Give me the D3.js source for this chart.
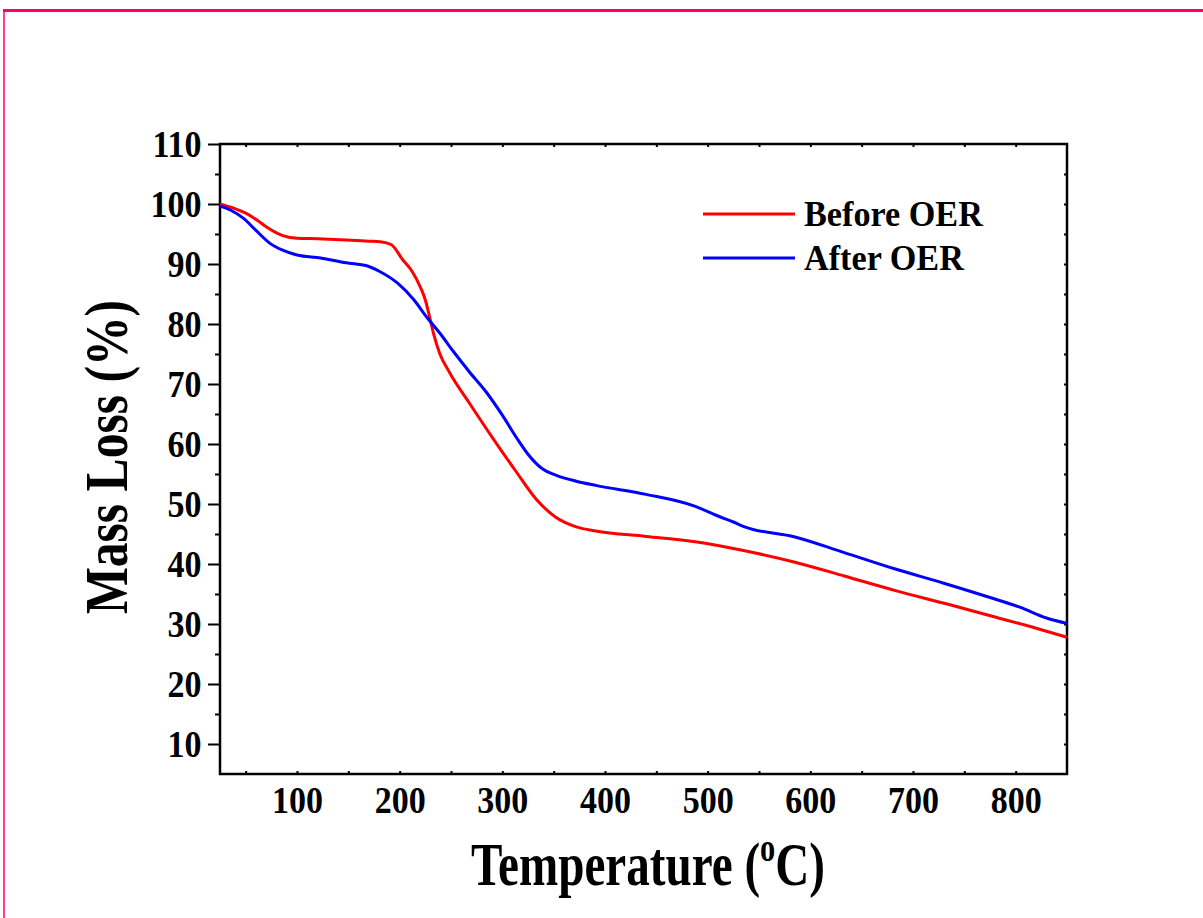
<!DOCTYPE html>
<html>
<head>
<meta charset="utf-8">
<script src="https://cdn.jsdelivr.net/npm/d3@7"></script>
<style>
  body { margin: 0; background: #fff; }
  svg { display: block; }
  text { font-family: "Liberation Serif", "Times New Roman", serif; font-weight: bold; fill: #000; }
</style>
</head>
<body>
<div id="main_plot"></div>
<script>
// series data
var beforeTemp = [25, 40, 51, 62, 70, 80, 87, 100, 120, 148, 170, 181, 192, 203, 212, 220, 225, 228, 233, 239, 249, 268, 291, 313, 333, 352, 372, 391, 440, 488, 536, 585, 633, 682, 736, 779, 820, 850];
var beforeMass = [100, 99.2, 98.4, 97.2, 96.2, 95.2, 94.7, 94.3, 94.2, 94.0, 93.8, 93.7, 93.2, 90.7, 88.8, 86.2, 84, 82, 78.4, 75.1, 71.8, 66.8, 60.9, 55.5, 50.8, 47.8, 46.2, 45.5, 44.6, 43.7, 42.2, 40.3, 38, 35.6, 33.2, 31.2, 29.3, 27.8];

var afterTemp = [25, 35, 48, 60, 74, 86, 100, 123, 148, 168, 181, 198, 214, 227, 239, 252, 268, 285, 300, 314, 325, 338, 352, 372, 391, 440, 488, 510, 525, 536, 585, 633, 682, 730, 779, 804, 830, 850];
var afterMass = [99.7, 99, 97.6, 95.6, 93.4, 92.3, 91.5, 91.0, 90.2, 89.7, 88.7, 86.8, 84, 81, 78.5, 75.5, 72, 68.5, 64.8, 61, 58.3, 56, 54.8, 53.8, 53.1, 51.6, 49.6, 48, 47, 46.2, 44.5, 41.9, 39.2, 36.8, 34.2, 32.8, 31, 30.1];

var seriesNames = ["Before OER", "After OER"];
var seriesColors = ["#ff0000", "#0000ff"];

// tick labels
var xTicks = [100, 200, 300, 400, 500, 600, 700, 800];
var yTicks = [10, 20, 30, 40, 50, 60, 70, 80, 90, 100, 110];

// set the dimensions and margins of the graph
var margin = {top: 144, left: 220},
    width = 847,
    height = 630;

var svg = d3.select("div#main_plot")
  .append("svg")
  .attr("width", 1203)
  .attr("height", 918);

// pink frame round the picture
svg.append("line")
  .attr("x1", 3).attr("x2", 1203)
  .attr("y1", 10.5).attr("y2", 10.5)
  .attr("stroke", "#ff0066").attr("stroke-width", 3);
svg.append("line")
  .attr("x1", 4).attr("x2", 4)
  .attr("y1", 9).attr("y2", 918)
  .attr("stroke", "#ff0066").attr("stroke-width", 1.5);

var g = svg.append("g")
  .attr("transform", "translate(" + margin.left + "," + margin.top + ")");

// define the axes
var x = d3.scaleLinear()
  .domain([25, 850])
  .range([0, width]);

var y = d3.scaleLinear()
  .domain([5, 110])
  .range([height, 0]);

var xMinor = d3.range(50, 850, 50);
var yMinor = d3.range(10, 110, 5);

// narrow bold tick labels
function styleLabels(s) {
  s.selectAll("text")
    .attr("font-size", 37)
    .attr("font-family", "Liberation Serif")
    .attr("font-weight", "bold")
    .attr("transform", "scale(0.92,1)");
}

// left axis: outward major and minor ticks
g.append("g")
  .call(d3.axisLeft(y).tickValues(yMinor.filter(function(d) { return d % 10 != 0; }))
    .tickSize(5).tickFormat("").tickSizeOuter(0))
  .call(function(s) { s.select(".domain").remove(); })
  .selectAll("line").attr("stroke-width", 2);

g.append("g")
  .call(d3.axisLeft(y).tickValues(yTicks).tickSize(12).tickPadding(8).tickSizeOuter(0))
  .call(function(s) { s.select(".domain").remove(); })
  .call(function(s) {
    s.selectAll("line").attr("stroke-width", 2);
    styleLabels(s);
    s.selectAll("text").attr("dy", "0.35em");
  });

// bottom axis labels, tiny inward ticks
g.append("g")
  .attr("transform", "translate(0," + height + ")")
  .call(d3.axisBottom(x).tickValues(xTicks).tickSize(0).tickPadding(13))
  .call(function(s) {
    s.select(".domain").remove();
    styleLabels(s);
  });

g.append("g")
  .attr("transform", "translate(0," + height + ")")
  .call(d3.axisTop(x).tickValues(xMinor).tickSize(3).tickFormat(""))
  .call(function(s) { s.select(".domain").remove(); s.selectAll("line").attr("stroke-width", 2); });

// top and right axes, tiny inward ticks
g.append("g")
  .call(d3.axisBottom(x).tickValues(xMinor).tickSize(3).tickFormat(""))
  .call(function(s) { s.select(".domain").remove(); s.selectAll("line").attr("stroke-width", 2); });

g.append("g")
  .attr("transform", "translate(" + width + ",0)")
  .call(d3.axisLeft(y).tickValues(yMinor).tickSize(3).tickFormat(""))
  .call(function(s) { s.select(".domain").remove(); s.selectAll("line").attr("stroke-width", 2); });

// frame of the plot
g.append("rect")
  .attr("x", 0).attr("y", 0)
  .attr("width", width).attr("height", height)
  .attr("fill", "none")
  .attr("stroke", "#000")
  .attr("stroke-width", 2.5);

// draw the curves
var line = d3.line()
  .curve(d3.curveMonotoneX)
  .x(function(d) { return x(d[0]); })
  .y(function(d) { return y(d[1]); });

var series = [
  d3.zip(beforeTemp, beforeMass),
  d3.zip(afterTemp, afterMass)
];

series.forEach(function(data, i) {
  g.append("path")
    .datum(data)
    .attr("fill", "none")
    .attr("stroke", seriesColors[i])
    .attr("stroke-width", 3)
    .attr("stroke-linejoin", "round")
    .attr("d", line);
});

// legend
seriesNames.forEach(function(name, i) {
  var ly = 214 + i * 44;
  svg.append("line")
    .attr("x1", 703).attr("x2", 795)
    .attr("y1", ly).attr("y2", ly)
    .attr("stroke", seriesColors[i])
    .attr("stroke-width", 3);
  svg.append("text")
    .attr("transform", "translate(804," + (ly + 12) + ") scale(0.95,1)")
    .attr("font-size", 36)
    .text(name);
});

// axis titles, narrowed like the original
var xt = svg.append("text")
  .attr("transform", "translate(648,885) scale(0.76,1)")
  .attr("text-anchor", "middle")
  .attr("font-size", 62);
xt.append("tspan").text("Temperature (");
xt.append("tspan").attr("font-size", 40).attr("dy", -24).text("o");
xt.append("tspan").attr("dy", 24).text("C)");

svg.append("text")
  .attr("transform", "translate(127,457) rotate(-90) scale(0.8,1)")
  .attr("text-anchor", "middle")
  .attr("font-size", 62)
  .text("Mass Loss (%)");
</script>
</body>
</html>
